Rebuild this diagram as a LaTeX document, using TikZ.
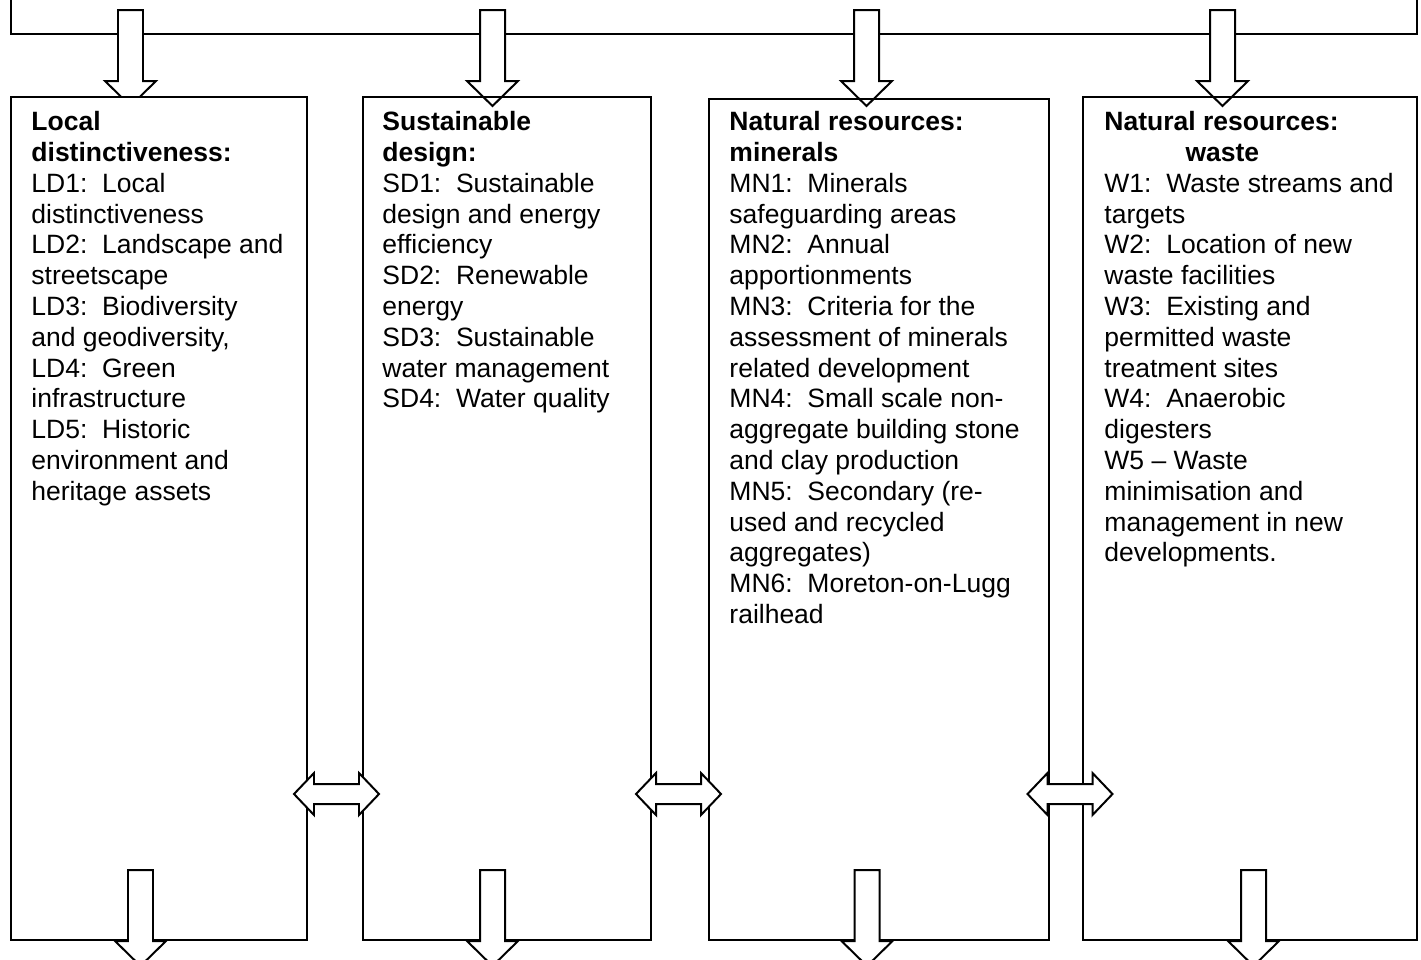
\documentclass[tikz,border=0pt]{standalone}
\usepackage{fontspec}
\setmainfont{Liberation Sans}
\tikzset{>=stealth}
\tikzset{
  panel/.style={draw, line width=0.9pt},
  blocktext/.style={anchor=north west, inner sep=0pt, align=left, font=\fontsize{12}{13.95}\selectfont},
  dnarrow/.pic={\draw[panel, fill=white] (-12.5,0) -- (12.5,0) -- (12.5,71) -- (25.5,71) -- (0,96) -- (-25.5,71) -- (-12.5,71) -- cycle;},
  dblarrow/.pic={\draw[panel, fill=white] (-42.5,0) -- (-22.5,-21) -- (-22.5,-10) -- (22.5,-10) -- (22.5,-21) -- (42.5,0) -- (22.5,21) -- (22.5,10) -- (-22.5,10) -- (-22.5,21) -- cycle;}
}
\begin{document}
\begin{tikzpicture}[x=0.4528pt, y=-0.4528pt]
\useasboundingbox (0,0) rectangle (1421,959);
\draw[panel] (11,-20) rectangle (1417,34);
\pic at (130.5,10) {dnarrow};
\pic at (492.5,10) {dnarrow};
\pic at (866.5,10) {dnarrow};
\pic at (1222.5,10) {dnarrow};
\draw[panel, fill=white] (11,97) rectangle (307,940);
\draw[panel] (363,97) rectangle (651,940);
\draw[panel] (709,99) rectangle (1049,940);
\draw[panel] (1083,97) rectangle (1417,940);
\pic at (140.5,870) {dnarrow};
\pic at (492.5,870) {dnarrow};
\pic at (867,870) {dnarrow};
\pic at (1253.5,870) {dnarrow};
\pic at (336.5,794) {dblarrow};
\pic at (678.5,794) {dblarrow};
\pic at (1070,794) {dblarrow};
\node[blocktext] (ld) at (31,111) {\textbf{Local}\\\textbf{distinctiveness:}\\LD1:~~Local\\distinctiveness\\LD2:~~Landscape and\\streetscape\\LD3:~~Biodiversity\\and geodiversity,\\LD4:~~Green\\infrastructure\\LD5:~~Historic\\environment and\\heritage assets};
\node[blocktext] (sd) at (382,111) {\textbf{Sustainable}\\\textbf{design:}\\SD1:~~Sustainable\\design and energy\\efficiency\\SD2:~~Renewable\\energy\\SD3:~~Sustainable\\water management\\SD4:~~Water quality};
\node[blocktext] (mn) at (729,111) {\textbf{Natural resources:}\\\textbf{minerals}\\MN1:~~Minerals\\safeguarding areas\\MN2:~~Annual\\apportionments\\MN3:~~Criteria for the\\assessment of minerals\\related development\\MN4:~~Small scale non-\\aggregate building stone\\and clay production\\MN5:~~Secondary (re-\\used and recycled\\aggregates)\\MN6:~~Moreton-on-Lugg\\railhead};
\node[blocktext] (w) at (1104,111) {\textbf{Natural resources:}\\\hspace*{36.7pt}\textbf{waste}\\W1:~~Waste streams and\\targets\\W2:~~Location of new\\waste facilities\\W3:~~Existing and\\permitted waste\\treatment sites\\W4:~~Anaerobic\\digesters\\W5 – Waste\\minimisation and\\management in new\\developments.};
\end{tikzpicture}
\end{document}
